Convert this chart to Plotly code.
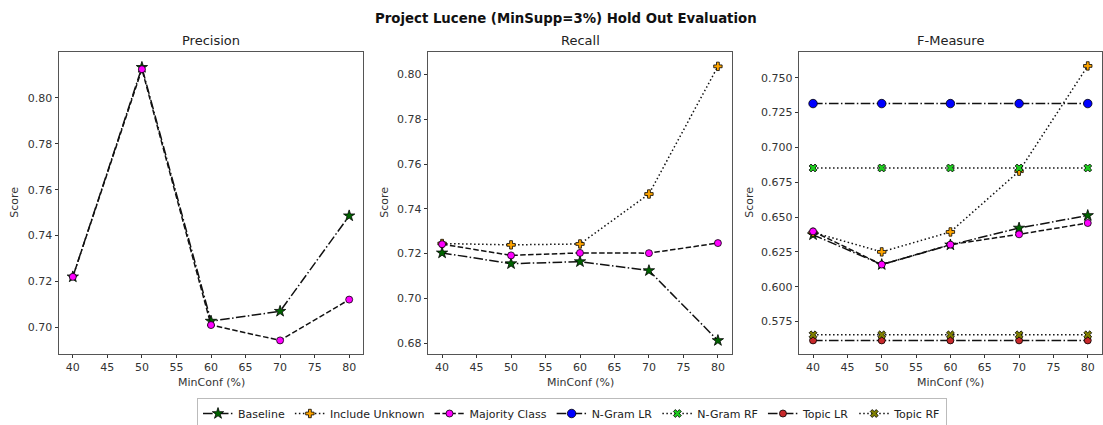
import plotly.graph_objects as go

# MinConf thresholds (%)
min_conf = [40, 50, 60, 70, 80]

# Precision
prec_baseline = [0.722, 0.8133, 0.7027, 0.707, 0.7486]
prec_majority = [0.722, 0.8125, 0.701, 0.6943, 0.7121]

# Recall
rec_baseline = [0.7203, 0.7155, 0.7164, 0.7124, 0.6812]
rec_unknown = [0.7245, 0.7239, 0.7243, 0.7466, 0.8036]
rec_majority = [0.7242, 0.7192, 0.7203, 0.7202, 0.7247]

# F-Measure
f_baseline = [0.6373, 0.6159, 0.6300, 0.6421, 0.6511]
f_unknown = [0.6390, 0.6250, 0.6393, 0.6829, 0.7584]
f_majority = [0.6397, 0.6159, 0.6302, 0.6376, 0.6457]
f_ngram_lr = [0.7314, 0.7314, 0.7314, 0.7314, 0.7314]
f_ngram_rf = [0.6852, 0.6852, 0.6852, 0.6852, 0.6852]
f_topic_lr = [0.5615, 0.5615, 0.5615, 0.5615, 0.5615]
f_topic_rf = [0.5655, 0.5655, 0.5655, 0.5655, 0.5655]

panel_titles = ["Precision", "Recall", "F-Measure"]
main_title = "Project Lucene (MinSupp=3%) Hold Out Evaluation"

W, H = 1103, 425
FONT = "DejaVu Sans"

# dash patterns (matplotlib-like at 1.5px line width)
DASHDOT = "9.6px,2.4px,1.5px,2.4px"
DASHED = "5.5px,2.4px"
DOTTED = "1.5px,2.5px"

styles = {
    "Baseline": dict(symbol="star", color="#006400", dash=DASHDOT, size=8.5),
    "Include Unknown": dict(symbol="cross", color="#FFA500", dash=DOTTED, size=7),
    "Majority Class": dict(symbol="circle", color="#FF00FF", dash=DASHED, size=7),
    "N-Gram LR": dict(symbol="circle", color="#0000FF", dash=DASHDOT, size=8.5),
    "N-Gram RF": dict(symbol="x", color="#1ECC1E", dash=DOTTED, size=7),
    "Topic LR": dict(symbol="circle", color="#C8282A", dash=DASHDOT, size=7),
    "Topic RF": dict(symbol="x", color="#808000", dash=DOTTED, size=7),
}

panels = [
    {"Baseline": prec_baseline, "Majority Class": prec_majority},
    {"Baseline": rec_baseline, "Include Unknown": rec_unknown,
     "Majority Class": rec_majority},
    {"Baseline": f_baseline, "Include Unknown": f_unknown,
     "Majority Class": f_majority, "N-Gram LR": f_ngram_lr,
     "N-Gram RF": f_ngram_rf, "Topic LR": f_topic_lr, "Topic RF": f_topic_rf},
]

# axis boxes in pixels: (left, right)
x_px = [(59, 363), (428.3, 731.7), (799.3, 1101.5)]
y_top_px, y_bot_px = 52, 353.5
y_ranges = [(0.6886, 0.8200), (0.6754, 0.8100), (0.5521, 0.7684)]
y_ticks = [
    [0.70, 0.72, 0.74, 0.76, 0.78, 0.80],
    [0.68, 0.70, 0.72, 0.74, 0.76, 0.78, 0.80],
    [0.575, 0.600, 0.625, 0.650, 0.675, 0.700, 0.725, 0.750],
]
y_fmt = [".2f", ".2f", ".3f"]

fig = go.Figure()
shown = set()
order = list(styles.keys())
for i, series in enumerate(panels):
    ax = "" if i == 0 else str(i + 1)
    for name in order:
        if name not in series:
            continue
        st = styles[name]
        fig.add_trace(go.Scatter(
            x=min_conf, y=series[name], name=name, mode="lines+markers",
            xaxis="x" + ax, yaxis="y" + ax,
            legendrank=order.index(name),
            showlegend=name not in shown, legendgroup=name,
            line=dict(color="#111111", width=1.5, dash=st["dash"]),
            marker=dict(symbol=st["symbol"], color=st["color"], size=st["size"],
                        line=dict(color="#000000", width=0.8)),
        ))
        shown.add(name)

layout = dict(
    width=W, height=H,
    margin=dict(l=0, r=0, t=0, b=0, autoexpand=False),
    paper_bgcolor="white", plot_bgcolor="white",
    font=dict(family=FONT, size=11, color="#333333"),
    legend=dict(orientation="h", x=0.5186, xanchor="center",
                y=1 - 398 / H, yanchor="top",
                bordercolor="#bbbbbb", borderwidth=1, itemwidth=30,
                font=dict(size=11, color="#222222"), traceorder="normal"),
    annotations=[], shapes=[],
)

dom_y = [1 - y_bot_px / H, 1 - y_top_px / H]
for i in range(3):
    ax = "" if i == 0 else str(i + 1)
    l, r = x_px[i]
    layout["xaxis" + ax] = dict(
        domain=[l / W, r / W], range=[38, 82], anchor="y" + ax,
        tickvals=[40, 45, 50, 55, 60, 65, 70, 75, 80],
        ticks="outside", ticklen=3.5, tickcolor="#333333",
        showline=True, linecolor="#555555", linewidth=1, mirror=True,
        showgrid=False, zeroline=False, tickfont=dict(size=11),
    )
    layout["yaxis" + ax] = dict(
        domain=dom_y, range=list(y_ranges[i]), anchor="x" + ax,
        tickvals=y_ticks[i], tickformat=y_fmt[i],
        ticks="outside", ticklen=3.5, tickcolor="#333333",
        showline=True, linecolor="#555555", linewidth=1, mirror=True,
        showgrid=False, zeroline=False, tickfont=dict(size=11),
    )
    cx = (l + r) / 2 / W
    layout["annotations"].append(dict(
        text=panel_titles[i], x=cx, y=1 - 41 / H, xref="paper", yref="paper",
        showarrow=False, xanchor="center", yanchor="middle",
        font=dict(size=13, color="#222222")))
    layout["annotations"].append(dict(
        text="MinConf (%)", x=cx, y=1 - 382 / H, xref="paper", yref="paper",
        showarrow=False, xanchor="center", yanchor="middle",
        font=dict(size=11, color="#333333")))
    score_x = [15, 385, 750][i]
    layout["annotations"].append(dict(
        text="Score", x=score_x / W, y=sum(dom_y) / 2, xref="paper", yref="paper",
        showarrow=False, xanchor="center", yanchor="middle", textangle=-90,
        font=dict(size=11, color="#333333")))

layout["annotations"].append(dict(
    text="<b>" + main_title + "</b>", x=566 / W, y=1 - 18 / H,
    xref="paper", yref="paper", showarrow=False,
    xanchor="center", yanchor="middle",
    font=dict(size=13.3, color="#111111")))

fig.update_layout(**layout)
fig.write_html("out.html")
